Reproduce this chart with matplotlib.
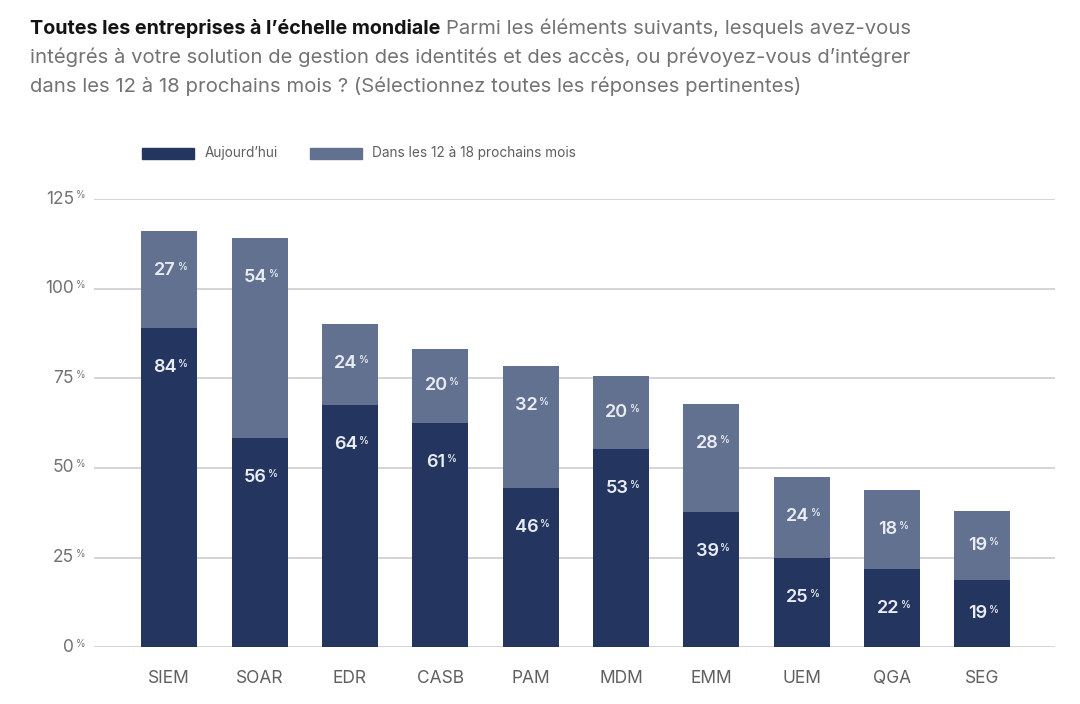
import numpy as np
import matplotlib.pyplot as plt
from matplotlib.patches import Rectangle
from matplotlib.transforms import blended_transform_factory

# categories and values
categories = ['SIEM', 'SOAR', 'EDR', 'CASB', 'PAM', 'MDM', 'EMM', 'UEM', 'QGA', 'SEG']
today = [89.0, 58.4, 67.5, 62.6, 44.5, 55.2, 37.8, 24.9, 21.8, 18.8]       # drawn heights
planned = [27.2, 55.7, 22.6, 20.6, 33.9, 20.5, 30.0, 22.7, 22.1, 19.2]     # drawn heights
today_labels = [84, 56, 64, 61, 46, 53, 39, 25, 22, 19]
planned_labels = [27, 54, 24, 20, 32, 20, 28, 24, 18, 19]
yticks = [0, 25, 50, 75, 100, 125]

dark = '#24365f'
light = '#637191'
grid_c = '#c9c9c9'
tick_c = '#727272'
font = 'Inter'
plt.rcParams['font.family'] = [font, 'DejaVu Sans']

fig = plt.figure(figsize=(10.8, 7.04), dpi=100)
ax = fig.add_axes([94/1080, 1-647.3/704, (1055-94)/1080, (647.3-199)/704])

x = np.arange(len(categories))
w = 0.62
ax.bar(x, today, w, color=dark, zorder=3)
ax.bar(x, planned, w, bottom=today, color=light, zorder=3)

ax.set_xlim(-0.832, 9.805)
ax.set_ylim(0, 125)
for s in ax.spines.values():
    s.set_visible(False)
ax.set_yticks(yticks)
ax.yaxis.grid(True, color=grid_c, lw=1.1, zorder=0)
ax.tick_params(axis='both', length=0)
ax.set_yticklabels([])
ax.set_xticks(x)
ax.set_xticklabels(categories, fontsize=12.5, color='#606060')
ax.tick_params(axis='x', pad=16)

# y tick labels with small percent sign
trans = blended_transform_factory(ax.transAxes, ax.transData)
for v in yticks:
    t = ax.text(-0.021, v, str(v), transform=trans, ha='right', va='center',
                fontsize=12.5, color=tick_c)
    ax.annotate('%', xy=(1, 1), xycoords=t, xytext=(1.5, 0),
                textcoords='offset points', ha='left', va='top',
                fontsize=7, color=tick_c)


def label(xi, bottom, height, val):
    top = bottom + height
    y = max(bottom + height / 2, top - 11)
    t = ax.annotate(str(val), xy=(xi, y), xytext=(-3, 0),
                    textcoords='offset points', ha='center', va='center',
                    fontsize=13, fontweight='semibold', color='#e9ecf3', zorder=5)
    ax.annotate('%', xy=(1, 1), xycoords=t, xytext=(1.2, 0),
                textcoords='offset points', ha='left', va='top',
                fontsize=7, fontweight='semibold', color='#e9ecf3', zorder=5)


for i in range(len(categories)):
    label(i, 0, today[i], today_labels[i])
    label(i, today[i], planned[i], planned_labels[i])

# legend
fig.patches.append(Rectangle((142/1080, 1-158.5/704), 52/1080, 10.5/704,
                             transform=fig.transFigure, color=dark))
fig.text(205/1080, 1-153/704, 'Aujourd\u2019hui', fontsize=9.8, color='#5e5e5e', va='center')
fig.patches.append(Rectangle((310/1080, 1-158.5/704), 52/1080, 10.5/704,
                             transform=fig.transFigure, color=light))
fig.text(372/1080, 1-153/704, 'Dans les 12 \u00e0 18 prochains mois', fontsize=9.8,
         color='#5e5e5e', va='center')

# title
fs = 14.6
t1 = fig.text(30/1080, 1-34/704, 'Toutes les entreprises \u00e0 l\u2019\u00e9chelle mondiale',
              fontsize=14.2, fontweight='bold', color='#141414', va='baseline')
fig.canvas.draw()
bb = t1.get_window_extent(fig.canvas.get_renderer())
fig.text((bb.x1 + 6)/1080, 1-34/704, 'Parmi les \u00e9l\u00e9ments suivants, lesquels avez-vous',
         fontsize=fs, color='#737373', va='baseline')
fig.text(30/1080, 1-63/704, 'int\u00e9gr\u00e9s \u00e0 votre solution de gestion des identit\u00e9s et des acc\u00e8s, ou pr\u00e9voyez-vous d\u2019int\u00e9grer',
         fontsize=fs, color='#737373', va='baseline')
fig.text(30/1080, 1-92/704, 'dans les 12 \u00e0 18 prochains mois ? (S\u00e9lectionnez toutes les r\u00e9ponses pertinentes)',
         fontsize=fs, color='#737373', va='baseline')

fig.savefig('out.png', dpi=100)
